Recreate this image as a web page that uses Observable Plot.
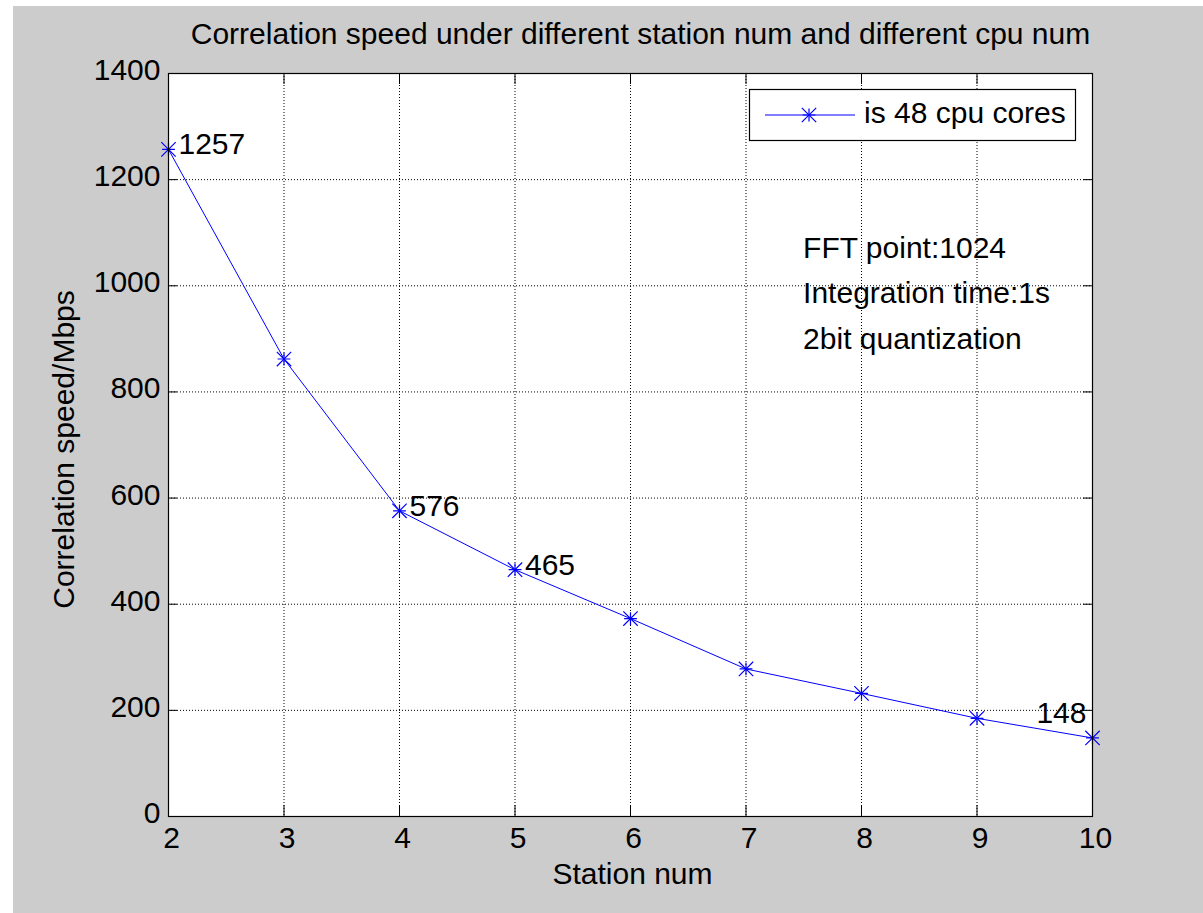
<!DOCTYPE html>
<html><head><meta charset="utf-8">
<script src="https://cdn.jsdelivr.net/npm/d3@7"></script>
<script src="https://cdn.jsdelivr.net/npm/@observablehq/plot@0.6"></script>
<style>
html,body{margin:0;padding:0;background:#fff;}
#chart{position:absolute;left:13px;top:6px;}
#chart svg{display:block;background:#cccccc;}
svg text{font-family:"Liberation Sans",Arial,sans-serif;}
</style></head><body><div id="chart"></div>
<script>
const stations = [2, 3, 4, 5, 6, 7, 8, 9, 10];
const speeds = [1257, 862, 576, 465, 373, 278, 232, 185, 148];
const xTicks = [2, 3, 4, 5, 6, 7, 8, 9, 10];
const yTicks = [0, 200, 400, 600, 800, 1000, 1200, 1400];
const labelIdx = [0, 2, 3];
const endLabelIdx = [8];
const notes = ["FFT point:1024", "Integration time:1s", "2bit quantization"];
const titleText = "Correlation speed under different station num and different cpu num";
const xLabel = "Station num";
const yLabel = "Correlation speed/Mbps";
const seriesName = "is 48 cpu cores";

const data = stations.map((s, i) => ({x: s, y: speeds[i]}));
const W = 1190, H = 907;
const mL = 155, mT = 67, mR = 111, mB = 97;
const fw = W - mL - mR, fh = H - mT - mB;
const blue = "#0000ff";
const FS = 30;
const noteDy = [184, 229, 275];

const marks = [
  Plot.frame({fill: "white", stroke: null}),
  Plot.ruleX(xTicks.slice(1, -1), {x: d => d, stroke: "#000", strokeDasharray: "1,2", strokeWidth: 1}),
  Plot.ruleY(yTicks.slice(1, -1), {y: d => d, stroke: "#000", strokeDasharray: "1,2", strokeWidth: 1}),
  Plot.tickX(xTicks, {x: d => d, stroke: "#000", insetTop: fh - 11}),
  Plot.tickX(xTicks, {x: d => d, stroke: "#000", insetBottom: fh - 11}),
  Plot.tickY(yTicks, {y: d => d, stroke: "#000", insetRight: fw - 9}),
  Plot.tickY(yTicks, {y: d => d, stroke: "#000", insetLeft: fw - 9}),
  Plot.line(data, {x: "x", y: "y", stroke: blue, strokeWidth: 1}),
  Plot.dot(data, {x: "x", y: "y", symbol: "plus", r: 4.2, stroke: blue, strokeWidth: 1.2, fill: "none"}),
  Plot.dot(data, {x: "x", y: "y", symbol: "times", r: 6.6, stroke: blue, strokeWidth: 1.2, fill: "none"}),
  Plot.frame({stroke: "#000", strokeWidth: 1.2}),
  Plot.text(labelIdx, {x: i => stations[i], y: i => speeds[i], text: i => String(speeds[i]), textAnchor: "start", lineAnchor: "bottom", dx: 10, dy: 5, fontSize: FS, fill: "#000"}),
  Plot.text(endLabelIdx, {x: i => stations[i], y: i => speeds[i], text: i => String(speeds[i]), textAnchor: "end", lineAnchor: "bottom", dx: -6, dy: -15, fontSize: FS, fill: "#000"}),
  ...notes.map((n, i) => Plot.text([n], {text: d => d, frameAnchor: "top-left", textAnchor: "start", lineAnchor: "bottom", dx: 634.6, dy: noteDy[i], fontSize: FS, fill: "#000"})),
  Plot.text([titleText], {text: d => d, frameAnchor: "top", textAnchor: "middle", lineAnchor: "bottom", dx: 10, dy: -29.7, fontSize: FS, fill: "#000"}),
  Plot.text([xLabel], {text: d => d, frameAnchor: "bottom", textAnchor: "middle", lineAnchor: "bottom", dx: 2, dy: 67, fontSize: FS, fill: "#000"}),
  Plot.text([yLabel], {text: d => d, frameAnchor: "left", rotate: -90, textAnchor: "middle", lineAnchor: "bottom", dx: -94.7, dy: 4.5, fontSize: FS, fill: "#000"}),
  Plot.text(xTicks, {x: d => d, text: d => String(d), frameAnchor: "bottom", textAnchor: "middle", lineAnchor: "bottom", dx: 3, dy: 31, fontSize: FS, fill: "#000"}),
  Plot.text(yTicks, {y: d => d, text: d => String(d), frameAnchor: "left", textAnchor: "end", lineAnchor: "bottom", dx: -8, dy: 6.5, fontSize: FS, fill: "#000"})
];

const svg = Plot.plot({
  width: W, height: H,
  marginLeft: mL, marginTop: mT, marginRight: mR, marginBottom: mB,
  x: {domain: [2, 10], axis: null},
  y: {domain: [0, 1400], axis: null},
  style: {background: "#cccccc", fontFamily: "Liberation Sans, Arial, sans-serif", fontSize: "30px", overflow: "visible"},
  marks
});

// legend (layout, not data)
const g = d3.select(svg).append("g");
g.append("rect").attr("x", 736.5).attr("y", 83.5).attr("width", 326).attr("height", 51)
  .attr("fill", "white").attr("stroke", "#000").attr("stroke-width", 1.2);
g.append("line").attr("x1", 752).attr("x2", 842).attr("y1", 109).attr("y2", 109)
  .attr("stroke", blue).attr("stroke-width", 1);
g.append("path").attr("transform", "translate(796,109)")
  .attr("d", d3.symbol(d3.symbolPlus, Math.PI * 4.2 * 4.2)()).attr("fill", "none").attr("stroke", blue).attr("stroke-width", 1.2);
g.append("path").attr("transform", "translate(796,109)")
  .attr("d", d3.symbol(d3.symbolTimes, Math.PI * 6.6 * 6.6)()).attr("fill", "none").attr("stroke", blue).attr("stroke-width", 1.2);
g.append("text").attr("x", 851).attr("y", 116.7).attr("text-anchor", "start")
  .attr("font-size", FS).attr("fill", "#000").text(seriesName);

document.getElementById("chart").appendChild(svg);
</script></body></html>
